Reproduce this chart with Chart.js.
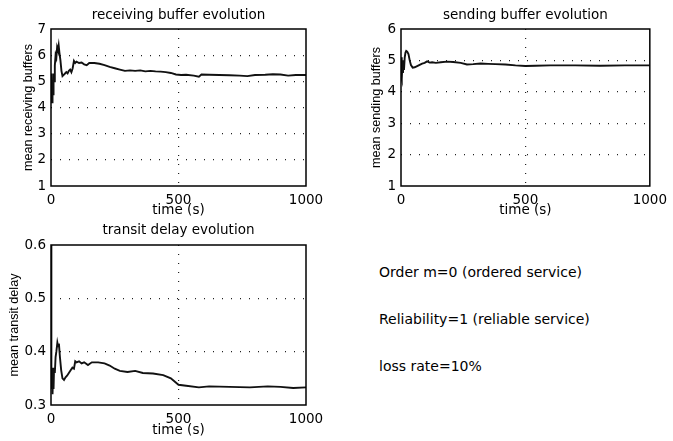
<!DOCTYPE html>
<html>
<head>
<meta charset="utf-8">
<script src="https://cdn.jsdelivr.net/npm/chart.js@4.4.1/dist/chart.umd.min.js"></script>
<style>
  body { margin: 0; background: #fff; width: 673px; height: 441px; overflow: hidden; position: relative; }
  canvas { position: absolute; }
  .note { position: absolute; left: 379px; font: 14px "DejaVu Sans", sans-serif; line-height: 16px; color: #000; white-space: nowrap; }
</style>
</head>
<body>
<canvas id="recv" width="330" height="222" style="left:0;top:0"></canvas>
<canvas id="send" width="333" height="222" style="left:340px;top:0"></canvas>
<canvas id="delay" width="330" height="221" style="left:0;top:220px"></canvas>
<div class="note" style="top:264px">Order m=0 (ordered service)</div>
<div class="note" style="top:311px">Reliability=1 (reliable service)</div>
<div class="note" style="top:358px">loss rate=10%</div>
<script>
// time axis ticks (s)
const timeTicks = [0, 500, 1000];

// receiving buffer evolution
const recvTime = [0, 2, 4, 6, 8, 10, 12, 15, 18, 21, 24, 27, 30, 33, 37, 41, 45, 50, 55, 60, 65, 70, 75, 80, 85, 90, 95, 100,
  110, 120, 130, 140, 150, 170, 190, 210, 230, 250, 270, 290, 310, 330, 350, 370, 390, 410, 430, 450, 470, 490,
  510, 530, 560, 580, 590, 620, 660, 700, 740, 770, 800, 840, 870, 900, 930, 960, 1000];
const recvBuffers = [4.6, 5.3, 4.2, 5.0, 4.5, 5.3, 5.0, 5.6, 6.0, 5.9, 6.3, 6.2, 6.38, 6.1, 5.8, 5.4, 5.2, 5.25, 5.3, 5.35, 5.3, 5.4, 5.45, 5.35, 5.5, 5.78, 5.7, 5.75,
  5.7, 5.72, 5.65, 5.62, 5.7, 5.7, 5.67, 5.62, 5.55, 5.5, 5.45, 5.4, 5.42, 5.4, 5.42, 5.38, 5.4, 5.38, 5.37, 5.35, 5.32, 5.26,
  5.24, 5.25, 5.22, 5.18, 5.26, 5.25, 5.24, 5.23, 5.22, 5.2, 5.24, 5.25, 5.27, 5.26, 5.22, 5.24, 5.24];
const recvTicks = [1, 2, 3, 4, 5, 6, 7];

// sending buffer evolution
const sendTime = [0, 2, 4, 6, 8, 10, 12, 15, 18, 21, 25, 30, 35, 40, 47, 55, 65, 75, 85, 95, 105, 115, 125, 140, 160, 185,
  210, 240, 265, 290, 320, 350, 380, 420, 460, 500, 540, 600, 700, 800, 900, 1000];
const sendBuffers = [4.5, 5.1, 4.4, 4.9, 4.6, 5.0, 4.7, 5.1, 5.25, 5.3, 5.28, 5.2, 5.0, 4.85, 4.77, 4.78, 4.82, 4.86, 4.9, 4.92, 4.97, 4.93, 4.94, 4.92, 4.94, 4.96,
  4.95, 4.92, 4.87, 4.88, 4.9, 4.89, 4.88, 4.87, 4.84, 4.82, 4.83, 4.84, 4.84, 4.83, 4.84, 4.84];
const sendTicks = [1, 2, 3, 4, 5, 6];

// transit delay evolution
const delayTime = [0, 1, 2, 4, 6, 8, 10, 12, 15, 18, 21, 25, 28, 31, 35, 40, 45, 51, 57, 63, 70, 77, 84, 90, 95, 100,
  110, 120, 130, 145, 160, 185, 210, 230, 250, 270, 300, 330, 360, 400, 440, 470, 500, 530, 580, 620, 700, 780, 850, 900, 950, 1000];
const transitDelay = [0.6, 0.45, 0.33, 0.37, 0.32, 0.36, 0.33, 0.37, 0.36, 0.39, 0.40, 0.417, 0.41, 0.415, 0.39, 0.365, 0.35, 0.347, 0.352, 0.355, 0.36, 0.365, 0.37, 0.368, 0.382, 0.38,
  0.382, 0.378, 0.38, 0.375, 0.38, 0.38, 0.378, 0.374, 0.368, 0.364, 0.362, 0.364, 0.36, 0.359, 0.356, 0.35, 0.338, 0.336, 0.333, 0.335, 0.334, 0.333, 0.335, 0.334, 0.332, 0.333];
const delayTicks = [0.3, 0.4, 0.5, 0.6];

const tickFont = { family: '"DejaVu Sans", sans-serif', size: 13.5 };

// draws the full box round the plot
const framePlugin = {
  id: 'frame',
  afterDatasetsDraw(chart) {
    const { ctx, chartArea: a } = chart;
    ctx.save();
    ctx.strokeStyle = '#000';
    ctx.lineWidth = 1.5;
    ctx.strokeRect(a.left, a.top, a.right - a.left, a.bottom - a.top);
    ctx.restore();
  }
};

function edgeColor(ctx) {
  const n = ctx.scale.ticks.length;
  return (ctx.index === 0 || ctx.index === n - 1) ? 'rgba(0,0,0,0)' : '#222';
}

function makeChart(id, times, values, yTicks, title, yTitle, lay) {
  return new Chart(document.getElementById(id), {
    type: 'line',
    data: {
      datasets: [{
        data: times.map((t, i) => ({ x: t, y: values[i] })),
        borderColor: '#111',
        borderWidth: 1.9,
        pointRadius: 0,
        tension: 0
      }]
    },
    options: {
      responsive: false,
      animation: false,
      layout: { padding: { left: 0, right: lay.right, top: 0, bottom: 0 } },
      plugins: {
        legend: { display: false },
        tooltip: { enabled: false },
        title: {
          display: true,
          text: title,
          fullSize: false,
          color: '#000',
          font: { family: '"DejaVu Sans", sans-serif', size: 13.5, weight: 'normal' },
          padding: lay.titlePad
        }
      },
      scales: {
        x: {
          type: 'linear',
          min: 0,
          max: 1000,
          afterBuildTicks: s => { s.ticks = timeTicks.map(v => ({ value: v })); },
          afterFit: s => { s.height = 36; },
          ticks: { color: '#000', font: tickFont, padding: lay.xTickPad, maxRotation: 0, callback: v => String(v) },
          grid: { color: edgeColor, lineWidth: 1.2, drawTicks: false },
          border: { display: false, dash: [1, 8] },
          title: {
            display: true, text: 'time (s)', color: '#000',
            font: { family: '"DejaVu Sans", sans-serif', size: 13.5 },
            padding: { top: 0, bottom: lay.xTitlePad }
          }
        },
        y: {
          type: 'linear',
          min: yTicks[0],
          max: yTicks[yTicks.length - 1],
          afterBuildTicks: s => { s.ticks = yTicks.map(v => ({ value: v })); },
          afterFit: s => { s.width = lay.yWidth; },
          ticks: { color: '#000', font: tickFont, padding: 5, callback: v => (yTicks[0] < 1 ? v.toFixed(1) : String(v)) },
          grid: { color: edgeColor, lineWidth: 1.2, drawTicks: false },
          border: { display: false, dash: [1, 8] },
          title: {
            display: true, text: yTitle, color: '#000',
            font: { family: '"Liberation Sans", Arial, sans-serif', size: 12.6 },
            padding: { top: lay.yTitlePad, bottom: 0 }
          }
        }
      }
    },
    plugins: [framePlugin]
  });
}

makeChart('recv', recvTime, recvBuffers, recvTicks, 'receiving buffer evolution', 'mean receiving buffers',
  { right: 24, titlePad: { top: 7, bottom: 5.8 }, yWidth: 51, yTitlePad: 20.5, xTickPad: 6, xTitlePad: 3 });
makeChart('send', sendTime, sendBuffers, sendTicks, 'sending buffer evolution', 'mean sending buffers',
  { right: 18, titlePad: { top: 7, bottom: 5.8 }, yWidth: 61, yTitlePad: 29.2, xTickPad: 6, xTitlePad: 3 });
makeChart('delay', delayTime, transitDelay, delayTicks, 'transit delay evolution', 'mean transit delay',
  { right: 24, titlePad: { top: 2.6, bottom: 6.2 }, yWidth: 51, yTitlePad: 6.5, xTickPad: 6.2, xTitlePad: 2.2 });
</script>
</body>
</html>
